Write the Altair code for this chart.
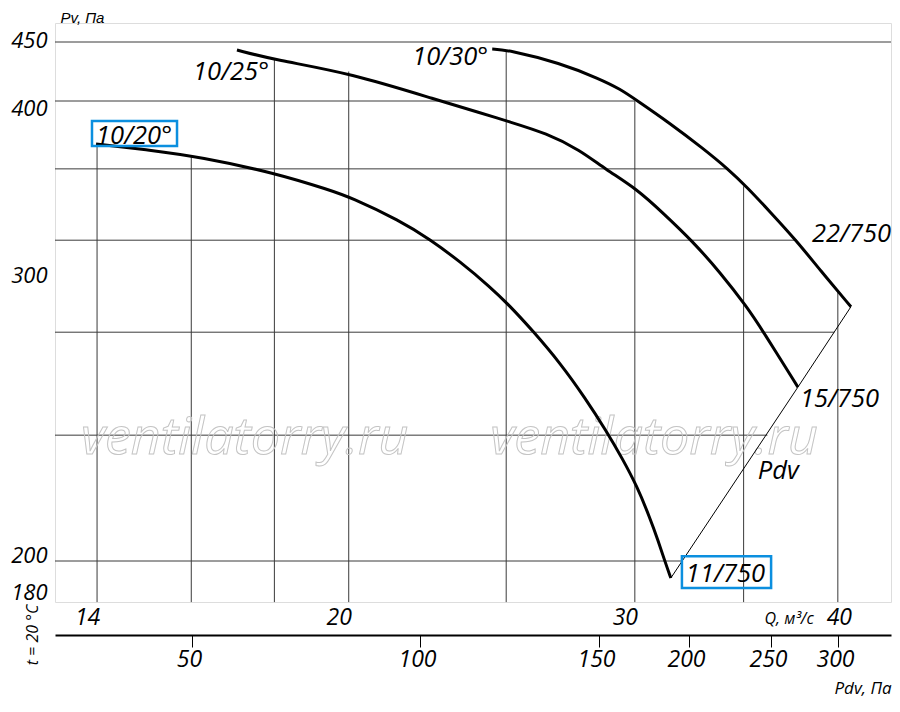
import altair as alt
import pandas as pd

FONT = "Open Sans"
BLUE = "#0b8fdf"

# ---- axis ticks ----
q_ticks = [14, 20, 30, 40]
pv_ticks = [450, 400, 300, 200, 180]
pdv_ticks = [50, 100, 150, 200, 250, 300]

# ---- scales as drawn on the sheet ----
q_domain = [13.19, 43.13]
pv_domain = [180, 200, 300, 400, 450]
pv_range = [569, 538, 252, 78, 19]
pdv_domain = [20, 50, 100, 150, 200, 250, 300, 339.6]
pdv_range = [0, 137, 365, 544, 634, 716, 783, 836]
pv_bottom = 173.5

# ---- grid (clipped to the curve envelope as in the original) ----
vgrid_q = [14, 16, 18, 20, 25, 30, 35, 40]
vgrid_top = [375, 368, 436, 425, 442, 400, 351, 294]
hgrid_pv = [450, 400, 361, 320, 280, 244, 200]
hgrid_right = [43.13, 30.0, 34.2, 37.75, 39.8, 36.2, 32.1]

# ---- characteristic curves ----
c20_q = [13.98, 15.09, 16.20, 18.02, 19.48, 20.04, 21.51, 22.44, 23.42, 24.44, 25.10, 25.97, 26.99,
         27.96, 28.84, 29.46, 30.09, 30.65, 31.00, 31.30, 31.57]
c20_pv = [375.3, 371.8, 367.8, 358.6, 348.7, 344.7, 331.2, 320.4, 307.7, 295.8, 289.5, 280.4, 269.2,
          257.0, 245.1, 236.0, 226.2, 215.0, 207.3, 200.0, 189.0]
c25_q = [17.07, 18.02, 20.04, 22.77, 24.09, 25.10, 26.48, 27.76, 28.76, 30.09, 31.23, 32.55, 33.84, 35.17, 35.97, 37.80]
c25_pv = [443.2, 434.7, 423.7, 400.0, 393.3, 388.1, 381.4, 371.8, 360.9, 349.4, 335.5, 319.5, 301.7, 288.8, 280.4, 260.8]
c30_q = [24.51, 25.07, 26.99, 28.55, 29.38, 30.10, 31.53, 33.04, 34.24, 35.15, 36.33, 37.74, 39.00, 40.75]
c30_pv = [444.1, 443.2, 432.2, 418.6, 410.2, 400.3, 387.2, 372.8, 360.9, 350.7, 336.4, 319.5, 302.9, 288.9]
pdv_q = [31.57, 37.80, 40.75]
pdv_pv = [189.0, 260.8, 288.9]

# ---- annotations ----
lab_text = ["10/20°", "10/25°", "10/30°", "22/750", "15/750", "11/750", "Pdv"]
lab_q = [13.98, 16.04, 21.88, 38.56, 37.91, 32.25, 35.71]
lab_pv = [375.3, 417.8, 430.5, 319.0, 253.8, 186.5, 228.5]
box_q1 = [13.90, 32.07]
box_q2 = [15.68, 36.39]
box_pv1 = [388.5, 201.7]
box_pv2 = [374.1, 182.6]
wm_text = ["ventilatorry.ru", "ventilatorry.ru"]
wm_q = [17.26, 30.83]
wm_pv = [237.5, 237.5]
temp_text = ["t = 20 °C"]
temp_q = [12.79]
temp_pv = [152.3]

q_scale = alt.Scale(type="log", domain=q_domain, nice=False)
pv_scale = alt.Scale(type="linear", domain=pv_domain, range=pv_range, nice=False, zero=False)
pdv_scale = alt.Scale(type="linear", domain=pdv_domain, range=pdv_range, nice=False, zero=False)

q_axis = alt.Axis(
    values=q_ticks, domain=False, ticks=False, grid=False,
    labelFont=FONT, labelFontStyle="italic", labelFontSize=23, labelColor="black",
    labelAlign="center", labelPadding=4,
    labelOffset={"condition": {"test": "datum.value == 40", "value": 1}, "value": -10},
    title="Q, м³/с", titleFont=FONT, titleFontStyle="italic", titleFontWeight="normal",
    titleFontSize=16, titleColor="black", titleAlign="left", titleBaseline="alphabetic",
    titleX=709, titleY=21,
)
pv_axis = alt.Axis(
    values=pv_ticks, domain=False, ticks=False, grid=False,
    labelFont=FONT, labelFontStyle="italic", labelFontSize=22, labelColor="black",
    labelPadding=8,
    labelOffset={"condition": [
        {"test": "datum.value == 400", "value": 7},
        {"test": "datum.value == 200", "value": -6},
        {"test": "datum.value == 450", "value": -2},
    ], "value": 0},
    title="Pv, Па", titleFont="Liberation Sans", titleFontStyle="italic", titleFontWeight="normal",
    titleFontSize=15, titleColor="black", titleAngle=0, titleAlign="left",
    titleBaseline="alphabetic", titleX=5, titleY=-1,
)
pdv_axis = alt.Axis(
    orient="bottom", offset=33, values=pdv_ticks, grid=False,
    domain=True, domainColor="black", domainWidth=2,
    ticks=True, tickColor="black", tickSize=12, tickWidth=1,
    labelFont=FONT, labelFontStyle="italic", labelFontSize=23, labelColor="black",
    labelPadding=1, labelOffset=-3,
    title="Pdv, Па", titleFont=FONT, titleFontStyle="italic", titleFontWeight="normal",
    titleFontSize=17, titleColor="black", titleAlign="left", titleBaseline="alphabetic",
    titleX=779, titleY=58,
)

vgrid = pd.DataFrame({"q": vgrid_q, "top": vgrid_top, "bottom": [pv_bottom] * len(vgrid_q)})
hgrid = pd.DataFrame({"pv": hgrid_pv, "left": [q_domain[0]] * len(hgrid_pv), "right": hgrid_right})

curves = pd.concat([
    pd.DataFrame({"q": c20_q, "pv": c20_pv, "s": "10/20"}),
    pd.DataFrame({"q": c25_q, "pv": c25_pv, "s": "10/25"}),
    pd.DataFrame({"q": c30_q, "pv": c30_pv, "s": "10/30"}),
])
pdv_df = pd.DataFrame({"q": pdv_q, "pv": pdv_pv})
labels = pd.DataFrame({"t": lab_text, "q": lab_q, "pv": lab_pv})
boxes = pd.DataFrame({"q1": box_q1, "q2": box_q2, "p1": box_pv1, "p2": box_pv2})
wm = pd.DataFrame({"t": wm_text, "q": wm_q, "pv": wm_pv})
temp = pd.DataFrame({"t": temp_text, "q": temp_q, "pv": temp_pv})


def X(field):
    return alt.X(field, scale=q_scale, axis=q_axis)


def Y(field):
    return alt.Y(field, scale=pv_scale, axis=pv_axis)


vg = alt.Chart(vgrid).mark_rule(color="#3a3a3a", strokeWidth=1).encode(
    x=X("q:Q"), y=Y("top:Q"), y2="bottom:Q",
)
hg = alt.Chart(hgrid).mark_rule(color="#3a3a3a", strokeWidth=1).encode(
    x=X("left:Q"), x2="right:Q", y=Y("pv:Q"),
)
wmark = alt.Chart(wm).mark_text(
    font=FONT, fontStyle="italic", fontSize=52, fillOpacity=0, stroke="#c4c4c4",
    strokeWidth=1, align="center", baseline="alphabetic",
).encode(x=X("q:Q"), y=Y("pv:Q"), text="t:N")
lines = alt.Chart(curves).mark_line(color="black", strokeWidth=3, interpolate="basis").encode(
    x=X("q:Q"), y=Y("pv:Q"), detail="s:N",
)
pdvline = alt.Chart(pdv_df).mark_line(color="black", strokeWidth=1).encode(
    x=X("q:Q"), y=Y("pv:Q"),
)
bx = alt.Chart(boxes).mark_rect(fillOpacity=0, stroke=BLUE, strokeWidth=2.5).encode(
    x=X("q1:Q"), x2="q2:Q", y=Y("p1:Q"), y2="p2:Q",
)
txt = alt.Chart(labels).mark_text(
    font=FONT, fontStyle="italic", fontSize=25.5, color="black", align="left", baseline="alphabetic",
).encode(x=X("q:Q"), y=Y("pv:Q"), text="t:N")
tmp = alt.Chart(temp).mark_text(
    font=FONT, fontStyle="italic", fontSize=16, color="black", angle=270,
    align="center", baseline="middle",
).encode(x=X("q:Q"), y=Y("pv:Q"), text="t:N")

main = alt.layer(vg, hg, wmark, lines, pdvline, bx, txt, tmp)

pdv_layer = alt.Chart(pd.DataFrame({"pdv": pdv_ticks})).mark_point(opacity=0).encode(
    x=alt.X("pdv:Q", scale=pdv_scale, axis=pdv_axis),
)

chart = alt.layer(main, pdv_layer).resolve_scale(x="independent").resolve_axis(x="independent").properties(
    width=836, height=579,
    padding={"left": 47, "top": 15, "right": 1, "bottom": 96},
    autosize=alt.AutoSizeParams(type="none"),
).configure_view(stroke="black", strokeWidth=2.5).configure(background="white")

chart.save("out.html", embed_options={"renderer": "svg", "actions": False})
